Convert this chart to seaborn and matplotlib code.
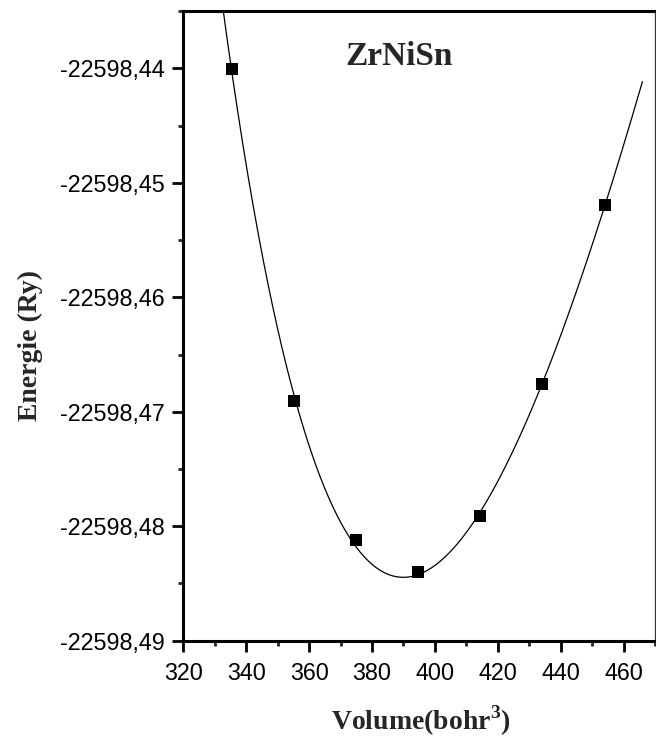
import numpy as np
import pandas as pd
import seaborn as sns
import matplotlib
matplotlib.use("Agg")
import matplotlib.pyplot as plt
from matplotlib.ticker import MultipleLocator, FuncFormatter

# Total energy versus cell volume for ZrNiSn
volume = [335.4, 355.1, 374.8, 394.6, 414.4, 434.2, 454.0]
energy = [-22598.4401, -22598.4691, -22598.4812, -22598.4840,
          -22598.4791, -22598.4676, -22598.4519]

compound = "ZrNiSn"
x_label = "Volume(bohr$^\\mathbf{3}$)"
y_label = "Energie (Ry)"

df = pd.DataFrame({"V": volume, "E": energy})

# Birch-Murnaghan equation of state: E is cubic in V^(-2/3)
E0 = -22598.0
coef = np.polyfit(np.asarray(volume) ** (-2.0 / 3.0), np.asarray(energy) - E0, 3)
v_fit = np.linspace(330.0, 466.0, 400)
e_fit = np.polyval(coef, v_fit ** (-2.0 / 3.0)) + E0
fit_df = pd.DataFrame({"V": v_fit, "E": e_fit})

sns.set_style("ticks")
plt.rcParams["font.family"] = ["Liberation Sans", "DejaVu Sans"]
plt.rcParams["mathtext.fontset"] = "custom"
plt.rcParams["mathtext.rm"] = "Liberation Serif"
plt.rcParams["mathtext.bf"] = "Liberation Serif:bold"

fig = plt.figure(figsize=(6.56, 7.38), dpi=100)
ax = fig.add_axes([0.2795, 0.1318, 0.7190, 0.8532])

sns.lineplot(data=fit_df, x="V", y="E", ax=ax, color="black", lw=0.9,
             sort=False, estimator=None)
sns.scatterplot(data=df, x="V", y="E", ax=ax, marker="s", s=70,
                color="black", edgecolor="black", linewidth=0, zorder=3)

ax.set_xlim(320, 470)
ax.set_ylim(-22598.49, -22598.435)
ax.xaxis.set_major_locator(MultipleLocator(20))
ax.xaxis.set_minor_locator(MultipleLocator(10))
ax.yaxis.set_major_locator(MultipleLocator(0.01))
ax.yaxis.set_minor_locator(MultipleLocator(0.005))
ax.yaxis.set_major_formatter(FuncFormatter(lambda v, p: f"{v:.2f}".replace(".", ",")))

ax.tick_params(which="major", direction="out", length=8, width=2,
               labelsize=16.8, colors="black")
ax.tick_params(which="minor", direction="out", length=3.5, width=2)
ax.tick_params(axis="x", which="major", pad=7)
ax.tick_params(axis="y", which="major", pad=5.5)

for side in ("left", "bottom", "top"):
    ax.spines[side].set_linewidth(2.2)
    ax.spines[side].set_color("black")
ax.spines["right"].set_linewidth(0.9)
ax.spines["right"].set_color("#333333")

ax.set_xlabel(x_label, fontfamily="Liberation Serif", fontweight="bold", fontsize=20)
ax.set_ylabel(y_label, fontfamily="Liberation Serif", fontweight="bold", fontsize=20)
ax.xaxis.set_label_coords(0.503, -0.1)
ax.yaxis.set_label_coords(-0.297, 0.469)

ax.text(0.458, 0.914, compound, transform=ax.transAxes, ha="center",
        va="baseline", fontfamily="Liberation Serif", fontweight="bold",
        fontsize=24)

fig.savefig("out.png", dpi=100)
